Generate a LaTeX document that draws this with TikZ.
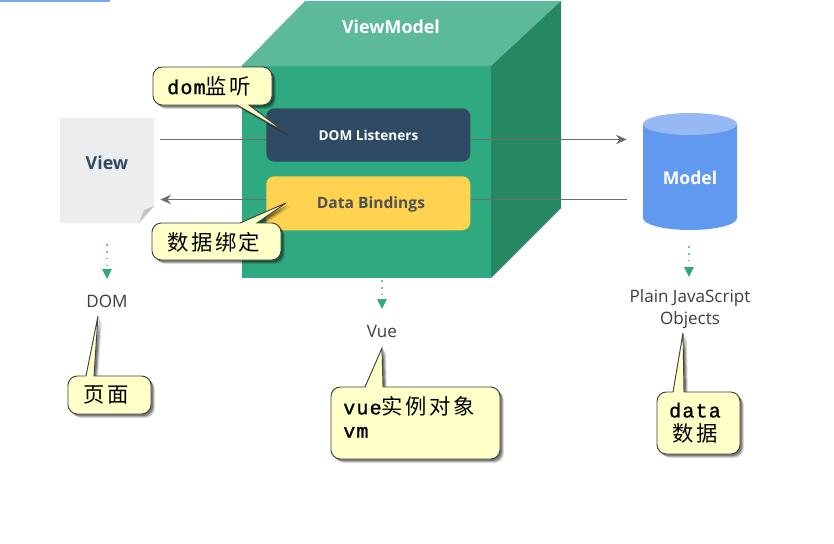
\documentclass[tikz,border=0pt]{standalone}
\usepackage{fontspec}
\usetikzlibrary{arrows.meta}
\setmainfont{Open Sans}
\newfontfamily\cjk[LetterSpace=12]{Noto Sans CJK SC}
\newfontfamily\lat[LetterSpace=6,FakeBold=1.2]{Liberation Mono}
\definecolor{front}{HTML}{2FAA80}
\definecolor{topface}{HTML}{5CBA9A}
\definecolor{sideface}{HTML}{268863}
\definecolor{navy}{HTML}{2F4A63}
\definecolor{amber}{HTML}{FFD24F}
\definecolor{paper}{HTML}{ECEDEE}
\definecolor{foldc}{HTML}{C4C6C6}
\definecolor{cylside}{HTML}{6199F0}
\definecolor{cyltop}{HTML}{96B9F4}
\definecolor{note}{HTML}{FFFFC8}
\definecolor{flowc}{HTML}{6A6E6E}
\definecolor{labelc}{HTML}{3A3F42}
\tikzset{
  x=0.75pt,y=-0.75pt,
  panel/.style={rounded corners=6pt,minimum width=153pt,minimum height=40pt,anchor=north west,inner sep=0pt},
  heading/.style={font=\bfseries\fontsize{11}{13}\selectfont,inner sep=0pt},
  plainlabel/.style={font=\fontsize{12.8}{16.5}\selectfont,text=labelc,inner sep=0pt,align=center},
  flow/.style={draw=flowc,line width=1.25pt,-{Stealth[length=8pt,width=7pt]}},
  flowplain/.style={draw=flowc,line width=1.25pt},
  dotflow/.style={draw=front!70,line width=1.2pt,dash pattern=on 1.2pt off 4pt,-{Triangle[length=7.5pt,width=7pt,color=front,fill=front]}},
  notetext/.style={inner sep=0pt,font=\fontsize{16}{18}\selectfont,align=left},
  notefill/.style={draw=black!75,line width=0.7pt,fill=note},
}
\newcommand{\latin}[1]{{\fontsize{15}{18}\selectfont\lat #1}}
% x1,y1,x2,y2, base1,base2, tipx,tipy : pointer on the top edge
\newcommand{\notetop}[8]{%
  \foreach \d/\o in {4/0.12,3/0.2,2/0.3}{
    \fill[black,opacity=\o,shift={(\d,\d)}] (#5,#2) -- (#7,#8) -- (#6,#2)
      [rounded corners=7pt] -- (#3,#2) -- (#3,#4) -- (#1,#4) -- (#1,#2) [sharp corners] -- cycle;
  }
  \filldraw[notefill] (#5,#2) -- (#7,#8) -- (#6,#2)
      [rounded corners=7pt] -- (#3,#2) -- (#3,#4) -- (#1,#4) -- (#1,#2) [sharp corners] -- cycle;
}
% same, pointer on the bottom edge
\newcommand{\notebot}[8]{%
  \foreach \d/\o in {4/0.12,3/0.2,2/0.3}{
    \fill[black,opacity=\o,shift={(\d,\d)}] (#6,#4) -- (#7,#8) -- (#5,#4)
      [rounded corners=7pt] -- (#1,#4) -- (#1,#2) -- (#3,#2) -- (#3,#4) [sharp corners] -- cycle;
  }
  \filldraw[notefill] (#6,#4) -- (#7,#8) -- (#5,#4)
      [rounded corners=7pt] -- (#1,#4) -- (#1,#2) -- (#3,#2) -- (#3,#4) [sharp corners] -- cycle;
}
\begin{document}
\begin{tikzpicture}
\useasboundingbox (0,0) rectangle (834,543);
\fill[white] (0,0) rectangle (834,543);
\fill[cylside!85] (0,0) rectangle (110,1.6);

\fill[topface] (241.5,66) -- (305,1) -- (561,1) -- (491,66) -- cycle;
\fill[sideface] (491,66) -- (561,1) -- (561,208) -- (491,278) -- cycle;
\fill[front] (241.5,66) rectangle (491,278);
\node[heading,text=white,font=\bfseries\fontsize{13.4}{15}\selectfont] (vm) at (391,27) {ViewModel};

% View page
\fill[paper] (60,118) -- (154,118) -- (154,207) -- (139,223) -- (60,223) -- cycle;
\fill[foldc] (154,206) -- (139,223) -- (144,210) -- cycle;
\node[heading,text=navy,minimum width=70.5pt,font=\bfseries\fontsize{13.4}{15}\selectfont] (view) at (107,163) {View};

% Model cylinder
\fill[cylside] (643,124) -- (643,218) arc[start angle=180,end angle=0,x radius=47,y radius=12] -- (737,124) -- cycle;
\fill[cyltop] (690,124) ellipse[x radius=47,y radius=11];
\node[heading,text=white,minimum width=70.5pt,font=\bfseries\fontsize{13.2}{15}\selectfont] (model) at (690,178) {Model};

\coordinate (upper) at (0,139.5);
\coordinate (lower) at (0,199.5);

% panels
\node[panel,fill=navy,minimum height=40pt] (listeners) at (266,108) {};
\node[panel,fill=amber,minimum height=40.5pt] (bindings) at (266,176) {};

\draw[flowplain] ([xshift=4.5pt]view.east |- upper) -- (listeners.west |- upper);
\draw[flow] (listeners.east |- upper) -- ([xshift=-12pt]model.west |- upper);
\draw[flowplain] ([xshift=-12pt]model.west |- lower) -- (bindings.east |- lower);
\draw[flow] (bindings.west |- lower) -- ([xshift=4.5pt]view.east |- lower);

\node[heading,text=white,font=\bfseries\fontsize{10.2}{12}\selectfont] (ltext) at (368.5,135) {DOM Listeners};
\node[heading,text=labelc!90,font=\bfseries\fontsize{11.7}{12}\selectfont] (btext) at (371,204) {Data Bindings};

% bottom labels
\node[plainlabel] (dom) at (107,301) {DOM};
\node[plainlabel] (vue) at (382,331) {Vue};
\node[plainlabel] (pjo) at (690,309) {Plain JavaScript\\Objects};

\coordinate (d1) at (107,244);
\coordinate (d2) at (107,279);
\coordinate (v1) at (382,280);
\coordinate (v2) at (382,309);
\coordinate (m1) at (689,246);
\coordinate (m2) at (689,277);
\draw[dotflow] (d1) -- (d2);
\draw[dotflow] (v1) -- (v2);
\draw[dotflow] (m1) -- (m2);

% callouts
\notebot{153}{67}{272}{105}{237}{249}{286}{133}
\node[notetext,anchor=west] (n1) at (167,86) {\latin{dom}{\cjk 监听}};
\notetop{152}{223}{281}{260}{240}{257}{286}{203}
\node[notetext,anchor=west] (n2) at (167,242) {{\cjk 数据绑定}};
\notetop{68}{376}{151}{414}{86}{94}{98}{316}
\node[notetext,anchor=west] (n3) at (83,395) {{\cjk 页面}};
\notetop{331}{387}{500}{459}{365}{383}{382}{348}
\node[notetext,anchor=west] (n4) at (343,417) {\latin{vue}{\cjk 实例对象}\\[-0.5pt]\latin{vm}};
\notetop{657}{392}{740}{454}{673}{684}{683}{333}
\node[notetext,align=center] (n5) at (695,423) {\latin{data}\\{\cjk 数据}};
\end{tikzpicture}
\end{document}
